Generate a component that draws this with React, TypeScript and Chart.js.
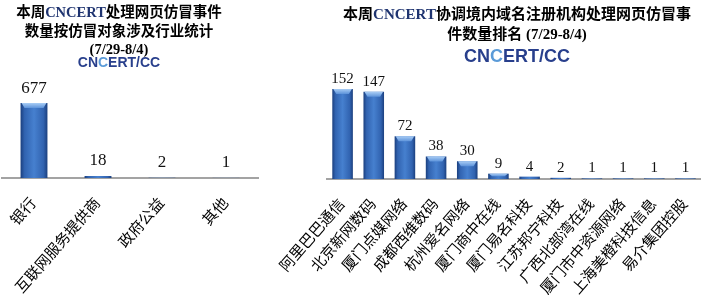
import { useEffect, useRef } from "react";
import { Chart, registerables } from "chart.js";

Chart.register(...registerables);

const leftCategories = ["银行", "互联网服务提供商", "政府公益", "其他"];
const leftValues = [677, 18, 2, 1];

const rightCategories = [
  "阿里巴巴通信",
  "北京新网数码",
  "厦门点媒网络",
  "成都西维数码",
  "杭州爱名网络",
  "厦门商中在线",
  "厦门易名科技",
  "江苏邦宁科技",
  "广西北部湾在线",
  "厦门市中资源网络",
  "上海美橙科技信息",
  "易介集团控股",
];
const rightValues = [152, 147, 72, 38, 30, 9, 4, 2, 1, 1, 1, 1];

const leftTitleLines = [
  ["本周", "CNCERT", "处理网页仿冒事件"],
  ["数量按仿冒对象涉及行业统计"],
  ["(7/29-8/4)"],
];
const rightTitleLines = [
  ["本周", "CNCERT", "协调境内域名注册机构处理网页仿冒事"],
  ["件数量排名 (7/29-8/4)"],
];
const logoText = ["CN", "C", "ERT/CC"];

const SERIF = '"Liberation Serif", "Noto Sans CJK SC", serif';
const NAVY = "#1f3470";
const LOGO = "#283f8c";

function drawSegs(ctx: CanvasRenderingContext2D, segs: string[], colors: string[], cx: number, y: number, font: string) {
  ctx.font = font;
  const widths = segs.map((s) => ctx.measureText(s).width);
  const total = widths.reduce((a, b) => a + b, 0);
  let x = cx - total / 2;
  ctx.textAlign = "left";
  ctx.textBaseline = "middle";
  segs.forEach((s, i) => {
    ctx.fillStyle = colors[i] || "#000";
    ctx.fillText(s, x, y);
    x += widths[i];
  });
}

function titlePlugin(lines: string[][], cx: number, ys: number[], titleSize: number, logoY: number, logoSize: number) {
  return {
    id: "customTitle",
    afterDraw(chart: any) {
      const ctx = chart.ctx as CanvasRenderingContext2D;
      ctx.save();
      lines.forEach((segs, i) => {
        const colors = segs.map((s) => (s === "CNCERT" ? NAVY : "#000"));
        drawSegs(ctx, segs, colors, cx, ys[i], `bold ${titleSize}px ${SERIF}`);
      });
      const lf = `bold ${logoSize}px "Liberation Sans", Arial, sans-serif`;
      ctx.font = lf;
      const w = logoText.reduce((a, s) => a + ctx.measureText(s).width, 0);
      ctx.fillStyle = "#fff";
      ctx.fillRect(cx - w / 2 - 2, logoY - logoSize * 0.45, w + 4, logoSize * 0.9);
      drawSegs(ctx, logoText, [LOGO, "#5b9bd8", LOGO], cx, logoY, lf);
      ctx.restore();
    },
  };
}

function valueLabelPlugin(values: number[], fontSize: number, offset: number) {
  return {
    id: "valueLabels",
    afterDatasetsDraw(chart: any) {
      const ctx = chart.ctx as CanvasRenderingContext2D;
      const meta = chart.getDatasetMeta(0);
      ctx.save();
      ctx.font = `${fontSize}px ${SERIF}`;
      ctx.textAlign = "center";
      ctx.textBaseline = "middle";
      meta.data.forEach((el: any, i: number) => {
        const { x, y, width, base } = el.getProps(["x", "y", "width", "base"], true);
        const h = base - y;
        if (h > 4) {
          const bh = Math.min(5, h / 2);
          const g = ctx.createLinearGradient(0, y, 0, y + bh);
          g.addColorStop(0, "#a9cdf5");
          g.addColorStop(1, "#5d93da");
          ctx.fillStyle = g;
          ctx.beginPath();
          ctx.moveTo(x - width / 2 + 1, y);
          ctx.lineTo(x + width / 2 - 1, y);
          ctx.lineTo(x + width / 2 - 4, y + bh);
          ctx.lineTo(x - width / 2 + 4, y + bh);
          ctx.closePath();
          ctx.fill();
        }
        ctx.fillStyle = "#111";
        ctx.fillText(String(values[i]), x, y - offset);
      });
      ctx.restore();
    },
  };
}

function barFill(pct: number) {
  return (c: any) => {
    const chart = c.chart;
    const area = chart.chartArea;
    const xs = chart.scales && chart.scales.x;
    if (!area || !xs || c.dataIndex === undefined) return "#3b73c2";
    const n = chart.data.labels.length;
    const cx = xs.getPixelForValue(c.dataIndex);
    const hw = (((area.right - area.left) / n) * pct) / 2;
    const g = chart.ctx.createLinearGradient(cx - hw, 0, cx + hw, 0);
    g.addColorStop(0, "#1b3f7e");
    g.addColorStop(0.15, "#3163b0");
    g.addColorStop(0.5, "#4680cf");
    g.addColorStop(0.85, "#3163b0");
    g.addColorStop(1, "#1b3f7e");
    return g;
  };
}

function makeConfig(
  labels: string[],
  values: number[],
  pct: number,
  yMax: number,
  padding: any,
  axisHeight: number,
  tickFont: number,
  plugins: any[]
): any {
  return {
    type: "bar",
    data: {
      labels,
      datasets: [
        {
          data: values,
          backgroundColor: barFill(pct),
          borderWidth: 0,
          barPercentage: pct,
          categoryPercentage: 1,
        },
      ],
    },
    options: {
      responsive: false,
      animation: false,
      layout: { padding },
      plugins: { legend: { display: false }, tooltip: { enabled: false }, title: { display: false } },
      scales: {
        x: {
          grid: { display: false },
          border: { display: true, color: "#a3a3a3", width: 2 },
          ticks: {
            color: "#000",
            font: { size: tickFont, family: SERIF },
            minRotation: 49,
            maxRotation: 49,
            autoSkip: false,
            padding: 9,
          },
          afterFit: (s: any) => {
            s.height = axisHeight;
          },
        },
        y: { display: false, min: 0, max: yMax },
      },
    },
    plugins,
  };
}

export default function App() {
  const leftRef = useRef<HTMLCanvasElement>(null);
  const rightRef = useRef<HTMLCanvasElement>(null);

  useEffect(() => {
    const left = new Chart(
      leftRef.current!,
      makeConfig(leftCategories, leftValues, 0.42, 840, { left: 2, right: 42, top: 85, bottom: 0 }, 120, 15, [
        valueLabelPlugin(leftValues, 17, 15),
        titlePlugin(leftTitleLines, 119, [13, 32, 50], 14.5, 63, 14),
      ])
    );
    const right = new Chart(
      rightRef.current!,
      makeConfig(rightCategories, rightValues, 0.66, 167, { left: 77, right: 0, top: 80, bottom: 0 }, 119, 15, [
        valueLabelPlugin(rightValues, 15, 10),
        titlePlugin(rightTitleLines, 267, [15, 35], 15, 57, 18),
      ])
    );
    return () => {
      left.destroy();
      right.destroy();
    };
  }, []);

  return (
    <div style={{ position: "fixed", left: 0, top: 0, width: 708, height: 298, background: "#fff" }}>
      <canvas ref={leftRef} width={300} height={298} style={{ position: "absolute", left: 0, top: 0 }} />
      <canvas ref={rightRef} width={458} height={298} style={{ position: "absolute", left: 250, top: 0 }} />
    </div>
  );
}
